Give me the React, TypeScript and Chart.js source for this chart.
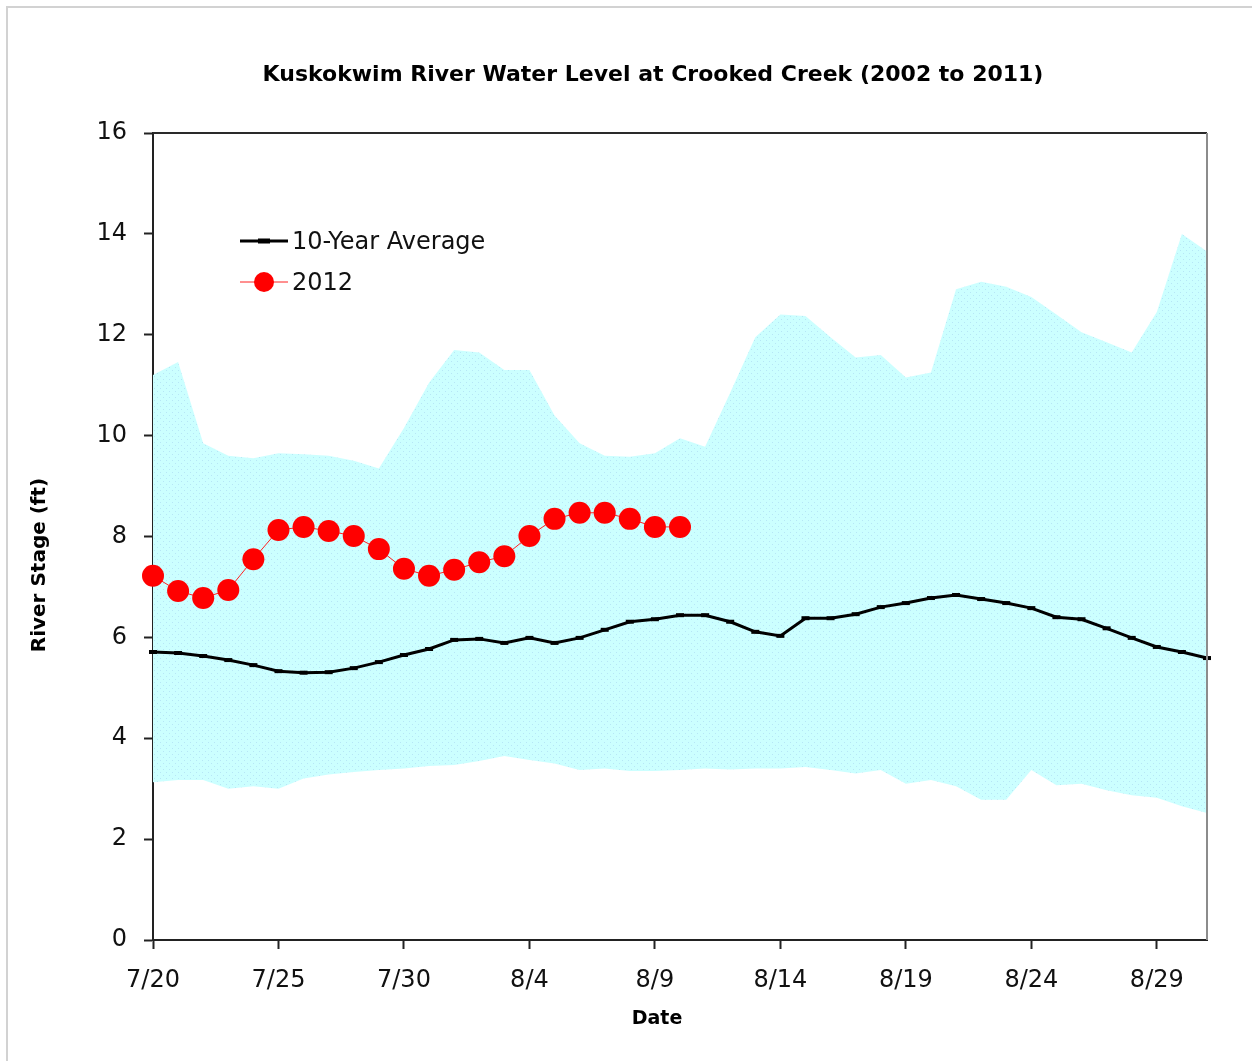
import React, { useEffect, useRef } from "react";
import { Chart, registerables } from "chart.js";

Chart.register(...registerables);

const TITLE = "Kuskokwim River Water Level at Crooked Creek (2002 to 2011)";
const X_TITLE = "Date";
const Y_TITLE = "River Stage (ft)";

const dates = [
  "7/20", "7/21", "7/22", "7/23", "7/24", "7/25", "7/26", "7/27", "7/28", "7/29", "7/30", "7/31",
  "8/1", "8/2", "8/3", "8/4", "8/5", "8/6", "8/7", "8/8", "8/9", "8/10", "8/11", "8/12", "8/13",
  "8/14", "8/15", "8/16", "8/17", "8/18", "8/19", "8/20", "8/21", "8/22", "8/23", "8/24", "8/25",
  "8/26", "8/27", "8/28", "8/29", "8/30", "8/31",
];

const avg10 = [
  5.71, 5.69, 5.63, 5.55, 5.45, 5.33, 5.3, 5.31, 5.39, 5.51,
  5.65, 5.77, 5.95, 5.97, 5.89, 5.99, 5.89, 5.99, 6.15, 6.31,
  6.36, 6.44, 6.44, 6.31, 6.11, 6.03, 6.38, 6.38, 6.46, 6.6,
  6.68, 6.78, 6.84, 6.76, 6.68, 6.58, 6.4, 6.36, 6.18, 5.99,
  5.81, 5.71, 5.59,
];

const max10 = [
  11.2, 11.46, 9.85, 9.6, 9.55, 9.65, 9.63, 9.6, 9.5, 9.35,
  10.15, 11.05, 11.7, 11.65, 11.3, 11.3, 10.4, 9.85, 9.6, 9.58,
  9.65, 9.95, 9.78, 10.85, 11.95, 12.4, 12.37, 11.95, 11.55, 11.6,
  11.15, 11.25, 12.9, 13.05, 12.95, 12.75, 12.4, 12.05, 11.85, 11.65,
  12.45, 14.0, 13.65,
];

const min10 = [
  3.13, 3.17, 3.17, 3.0, 3.05, 3.0, 3.2, 3.28, 3.33, 3.37,
  3.4, 3.45, 3.47, 3.55, 3.65, 3.57, 3.5, 3.37, 3.4, 3.35,
  3.35, 3.37, 3.4, 3.38, 3.4, 3.4, 3.43, 3.37, 3.3, 3.37,
  3.1, 3.17, 3.05, 2.78, 2.78, 3.37, 3.07, 3.1, 2.97, 2.87,
  2.82, 2.65, 2.52,
];

const y2012 = [
  7.22, 6.92, 6.78, 6.94, 7.55, 8.13, 8.19, 8.11, 8.01, 7.75, 7.36,
  7.22, 7.34, 7.49, 7.61, 8.01, 8.35, 8.47, 8.47, 8.35, 8.19, 8.19,
];

const W = 1252;
const H = 1061;

const decorPlugin = {
  id: "decor",
  afterDatasetsDraw(chart: any) {
    const { ctx, chartArea: a } = chart;
    ctx.save();
    // top and right frame of plot area
    ctx.lineWidth = 2;
    ctx.strokeStyle = "#2a2a2a";
    ctx.beginPath();
    ctx.moveTo(a.left, a.top);
    ctx.lineTo(a.right, a.top);
    ctx.stroke();
    ctx.strokeStyle = "#8c8c8c";
    ctx.beginPath();
    ctx.moveTo(a.right, a.top);
    ctx.lineTo(a.right, a.bottom);
    ctx.stroke();

    // legend
    const ds = chart.data.datasets;
    const lx0 = a.left + 87;
    const lx1 = a.left + 135;
    const mx = (lx0 + lx1) / 2;
    const rows = [
      { d: ds[1], y: a.top + 108 },
      { d: ds[0], y: a.top + 149 },
    ];
    ctx.font = "24px 'DejaVu Sans'";
    ctx.textBaseline = "middle";
    ctx.textAlign = "left";
    rows.forEach((r, i) => {
      ctx.strokeStyle = r.d.borderColor;
      ctx.lineWidth = r.d.borderWidth;
      ctx.beginPath();
      ctx.moveTo(lx0, r.y);
      ctx.lineTo(lx1, r.y);
      ctx.stroke();
      if (i === 0) {
        ctx.fillStyle = r.d.pointBackgroundColor;
        ctx.fillRect(mx - 6, r.y - 2.5, 12, 5);
      } else {
        ctx.fillStyle = r.d.pointBackgroundColor;
        ctx.beginPath();
        ctx.arc(mx, r.y, 10, 0, Math.PI * 2);
        ctx.fill();
      }
      ctx.fillStyle = "#111";
      ctx.fillText(r.d.label, lx1 + 4, r.y + 2);
    });
    ctx.restore();
  },
  afterDraw(chart: any) {
    const { ctx } = chart;
    ctx.save();
    ctx.fillStyle = "#000";
    ctx.textAlign = "center";
    ctx.textBaseline = "middle";
    ctx.font = "bold 22px 'DejaVu Sans'";
    ctx.fillText(TITLE, 653, 75);
    ctx.font = "bold 19px 'DejaVu Sans'";
    ctx.fillText(X_TITLE, 657, 1019);
    ctx.translate(40, 565);
    ctx.rotate(-Math.PI / 2);
    ctx.font = "bold 20px 'DejaVu Sans'";
    ctx.fillText(Y_TITLE, 0, 0);
    ctx.restore();
  },
};

export default function App() {
  const ref = useRef<HTMLCanvasElement | null>(null);

  useEffect(() => {
    const canvas = ref.current;
    if (!canvas) return;
    const ctx = canvas.getContext("2d")!;

    const pc = document.createElement("canvas");
    pc.width = 6;
    pc.height = 6;
    const p = pc.getContext("2d")!;
    p.fillStyle = "#ccffff";
    p.fillRect(0, 0, 6, 6);
    p.fillStyle = "#b6e6f6";
    p.fillRect(1, 1, 1, 1);
    p.fillRect(4, 4, 1, 1);
    const pattern = ctx.createPattern(pc, "repeat");

    const chart = new Chart(ctx, {
      type: "line",
      data: {
        labels: dates,
        datasets: [
          {
            label: "2012",
            data: y2012,
            borderColor: "#ff2020",
            borderWidth: 1,
            pointBackgroundColor: "#ff0000",
            pointBorderColor: "#ff0000",
            pointRadius: 11,
            pointBorderWidth: 0,
            fill: false,
            order: 0,
            clip: false as any,
          },
          {
            label: "10-Year Average",
            data: avg10,
            borderColor: "#000000",
            borderWidth: 3,
            pointStyle: "line",
            pointRadius: 4,
            pointBorderWidth: 4,
            pointBackgroundColor: "#000000",
            pointBorderColor: "#000000",
            fill: false,
            order: 1,
            clip: false as any,
          },
          {
            label: "Max",
            data: max10,
            borderWidth: 0,
            borderColor: "rgba(0,0,0,0)",
            pointRadius: 0,
            backgroundColor: pattern as any,
            fill: "+1",
            order: 2,
          },
          {
            label: "Min",
            data: min10,
            borderWidth: 0,
            borderColor: "rgba(0,0,0,0)",
            pointRadius: 0,
            fill: false,
            order: 3,
          },
        ],
      },
      options: {
        responsive: false,
        animation: false,
        devicePixelRatio: 1,
        layout: { padding: { top: 133, right: 45, left: 0, bottom: 0 } },
        plugins: {
          legend: { display: false },
          title: { display: false },
          tooltip: { enabled: false },
        },
        scales: {
          x: {
            type: "category",
            offset: false,
            afterFit: (s: any) => {
              s.height = 121;
            },
            grid: {
              drawOnChartArea: false,
              drawTicks: true,
              tickLength: 9,
              tickWidth: 2,
              tickColor: "#222",
            },
            border: { display: true, color: "#222", width: 2 },
            ticks: {
              autoSkip: false,
              maxRotation: 0,
              padding: 17,
              color: "#111",
              font: { family: "'DejaVu Sans'", size: 24 },
              callback: function (this: any, _v: any, i: number) {
                return i % 5 === 0 ? dates[i] : null;
              },
            },
          },
          y: {
            min: 0,
            max: 16,
            afterFit: (s: any) => {
              s.width = 153;
            },
            grid: {
              drawOnChartArea: false,
              drawTicks: true,
              tickLength: 9,
              tickWidth: 2,
              tickColor: "#222",
            },
            border: { display: true, color: "#222", width: 2 },
            ticks: {
              stepSize: 2,
              padding: 17,
              color: "#111",
              font: { family: "'DejaVu Sans'", size: 24 },
            },
          },
        },
      },
      plugins: [decorPlugin],
    });

    return () => chart.destroy();
  }, []);

  return (
    <div
      style={{
        position: "fixed",
        left: 0,
        top: 0,
        width: W,
        height: H,
        background: "#fff",
        overflow: "hidden",
      }}
    >
      <canvas ref={ref} width={W} height={H} style={{ display: "block" }} />
      <div
        style={{
          position: "absolute",
          left: 6,
          top: 6,
          width: W,
          height: H,
          borderTop: "2px solid #d2d2d2",
          borderLeft: "2px solid #d2d2d2",
          pointerEvents: "none",
        }}
      />
    </div>
  );
}
